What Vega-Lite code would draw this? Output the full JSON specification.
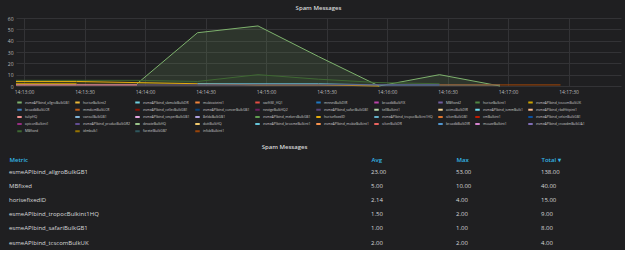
{
  "$schema": "https://vega.github.io/schema/vega-lite/v6.json",
  "background": "#1f1f21",
  "padding": {"left": 7, "top": 5, "right": 4, "bottom": 0},
  "spacing": 10,
  "columns": 1,
  "align": "none",
  "resolve": {"scale": {"color": "independent"}, "legend": {"color": "independent"}},
  "config": {
    "font": "Open Sans",
    "view": {"stroke": null},
    "title": {"fontSize": 6, "fontWeight": 600, "color": "#d8d9da", "offset": 5}
  },
  "datasets": {
    "series": [
      {"t": "2017-03-01T14:13:56", "s": "esmeAPIbind_allgroBulkGB1", "v": 2},
      {"t": "2017-03-01T14:14:26", "s": "esmeAPIbind_allgroBulkGB1", "v": 47},
      {"t": "2017-03-01T14:14:56", "s": "esmeAPIbind_allgroBulkGB1", "v": 53},
      {"t": "2017-03-01T14:15:26", "s": "esmeAPIbind_allgroBulkGB1", "v": 26},
      {"t": "2017-03-01T14:15:56", "s": "esmeAPIbind_allgroBulkGB1", "v": 0},
      {"t": "2017-03-01T14:16:26", "s": "esmeAPIbind_allgroBulkGB1", "v": 10},
      {"t": "2017-03-01T14:16:56", "s": "esmeAPIbind_allgroBulkGB1", "v": 0},
      {"t": "2017-03-01T14:12:56", "s": "MBfixed", "v": 5},
      {"t": "2017-03-01T14:13:26", "s": "MBfixed", "v": 5},
      {"t": "2017-03-01T14:13:56", "s": "MBfixed", "v": 5},
      {"t": "2017-03-01T14:14:26", "s": "MBfixed", "v": 4},
      {"t": "2017-03-01T14:14:56", "s": "MBfixed", "v": 10},
      {"t": "2017-03-01T14:15:26", "s": "MBfixed", "v": 6},
      {"t": "2017-03-01T14:15:56", "s": "MBfixed", "v": 3},
      {"t": "2017-03-01T14:16:26", "s": "MBfixed", "v": 2},
      {"t": "2017-03-01T14:12:56", "s": "horisefixedID", "v": 4},
      {"t": "2017-03-01T14:13:26", "s": "horisefixedID", "v": 4},
      {"t": "2017-03-01T14:13:56", "s": "horisefixedID", "v": 3},
      {"t": "2017-03-01T14:14:26", "s": "horisefixedID", "v": 2},
      {"t": "2017-03-01T14:14:56", "s": "horisefixedID", "v": 1},
      {"t": "2017-03-01T14:15:26", "s": "horisefixedID", "v": 1},
      {"t": "2017-03-01T14:15:56", "s": "horisefixedID", "v": 0},
      {"t": "2017-03-01T14:14:26", "s": "esmeAPIbind_tropocBulkint1HQ", "v": 2},
      {"t": "2017-03-01T14:14:56", "s": "esmeAPIbind_tropocBulkint1HQ", "v": 2},
      {"t": "2017-03-01T14:15:26", "s": "esmeAPIbind_tropocBulkint1HQ", "v": 2},
      {"t": "2017-03-01T14:15:56", "s": "esmeAPIbind_tropocBulkint1HQ", "v": 1},
      {"t": "2017-03-01T14:16:26", "s": "esmeAPIbind_tropocBulkint1HQ", "v": 1},
      {"t": "2017-03-01T14:16:56", "s": "esmeAPIbind_tropocBulkint1HQ", "v": 1},
      {"t": "2017-03-01T14:12:56", "s": "esmeAPIbind_safariBulkGB1", "v": 1},
      {"t": "2017-03-01T14:13:26", "s": "esmeAPIbind_safariBulkGB1", "v": 1},
      {"t": "2017-03-01T14:13:56", "s": "esmeAPIbind_safariBulkGB1", "v": 1},
      {"t": "2017-03-01T14:14:26", "s": "esmeAPIbind_safariBulkGB1", "v": 1},
      {"t": "2017-03-01T14:14:56", "s": "esmeAPIbind_safariBulkGB1", "v": 1},
      {"t": "2017-03-01T14:15:26", "s": "esmeAPIbind_safariBulkGB1", "v": 1},
      {"t": "2017-03-01T14:15:56", "s": "esmeAPIbind_safariBulkGB1", "v": 1},
      {"t": "2017-03-01T14:16:26", "s": "esmeAPIbind_safariBulkGB1", "v": 1},
      {"t": "2017-03-01T14:12:56", "s": "esmeAPIbind_tcscomBulkUK", "v": 2},
      {"t": "2017-03-01T14:13:26", "s": "esmeAPIbind_tcscomBulkUK", "v": 2},
      {"t": "2017-03-01T14:16:26", "s": "infobBulkint1", "v": 1},
      {"t": "2017-03-01T14:16:56", "s": "infobBulkint1", "v": 1},
      {"t": "2017-03-01T14:17:26", "s": "infobBulkint1", "v": 1},
      {"t": "2017-03-01T14:12:56", "s": "tulipHQ", "v": 1},
      {"t": "2017-03-01T14:13:26", "s": "tulipHQ", "v": 1},
      {"t": "2017-03-01T14:13:56", "s": "tulipHQ", "v": 1}
    ],
    "tabledata": [
      {"Metric": "esmeAPIbind_allgroBulkGB1", "Avg": 23, "Max": 53, "Total": 138},
      {"Metric": "MBfixed", "Avg": 5, "Max": 10, "Total": 40},
      {"Metric": "horisefixedID", "Avg": 2.14, "Max": 4, "Total": 15},
      {"Metric": "esmeAPIbind_tropocBulkint1HQ", "Avg": 1.5, "Max": 2, "Total": 9},
      {"Metric": "esmeAPIbind_safariBulkGB1", "Avg": 1, "Max": 1, "Total": 8},
      {"Metric": "esmeAPIbind_tcscomBulkUK", "Avg": 2, "Max": 2, "Total": 4}
    ]
  },
  "concat": [
    {
      "title": {"text": "Spam Messages"},
      "data": {"name": "series"},
      "width": 605,
      "height": 68,
      "encoding": {
        "x": {
          "field": "t", "type": "temporal",
          "scale": {"domain": [
            {"year": 2017, "month": 3, "date": 1, "hours": 14, "minutes": 12, "seconds": 56},
            {"year": 2017, "month": 3, "date": 1, "hours": 14, "minutes": 17, "seconds": 56}
          ]},
          "axis": {
            "values": [
              {"year": 2017, "month": 3, "date": 1, "hours": 14, "minutes": 13, "seconds": 0},
              {"year": 2017, "month": 3, "date": 1, "hours": 14, "minutes": 13, "seconds": 30},
              {"year": 2017, "month": 3, "date": 1, "hours": 14, "minutes": 14, "seconds": 0},
              {"year": 2017, "month": 3, "date": 1, "hours": 14, "minutes": 14, "seconds": 30},
              {"year": 2017, "month": 3, "date": 1, "hours": 14, "minutes": 15, "seconds": 0},
              {"year": 2017, "month": 3, "date": 1, "hours": 14, "minutes": 15, "seconds": 30},
              {"year": 2017, "month": 3, "date": 1, "hours": 14, "minutes": 16, "seconds": 0},
              {"year": 2017, "month": 3, "date": 1, "hours": 14, "minutes": 16, "seconds": 30},
              {"year": 2017, "month": 3, "date": 1, "hours": 14, "minutes": 17, "seconds": 0},
              {"year": 2017, "month": 3, "date": 1, "hours": 14, "minutes": 17, "seconds": 30}
            ],
            "format": "%H:%M:%S", "labelFontSize": 5, "labelColor": "#b9b9bb", "grid": true, "gridColor": "#333336", "domain": false, "ticks": false, "labelPadding": 3, "title": null, "labelFlush": false}
        },
        "y": {
          "field": "v", "type": "quantitative", "stack": null,
          "scale": {"domain": [0, 60], "nice": false},
          "axis": {"values": [0, 10, 20, 30, 40, 50, 60], "labelFontSize": 5, "labelColor": "#b9b9bb", "grid": true, "gridColor": "#333336", "domain": false, "ticks": false, "labelPadding": 3, "title": null, "minExtent": 7, "maxExtent": 7}
        },
        "color": {
          "field": "s", "type": "nominal",
          "scale": {
            "domain": ["esmeAPIbind_allgroBulkGB1", "horiseBulkint2", "esmeAPIbind_sbmobiBulkDR", "mobivateint1", "swiftSE_HQ1", "mnnesBulkDIR", "broadbBulkFIX", "MBfixed2", "horiseBulkint1", "esmeAPIbind_tcscomBulkUK", "broadbBulkLCR", "mmdomBulkLCR", "esmeAPIbind_cellecBulkGB1", "esmeAPIbind_converBulkGB1", "nextgeBulkHQ2", "esmeAPIbind_safariBulkGB1", "tellBulkint1", "acimoBulkDIR", "esmeAPIbind_ismmBulk1", "esmeAPIbind_rbdHttpint1", "tulipHQ", "vansolBulkGB1", "esmeAPIbind_vesperBulkGB1", "8eldaBulkGB1", "esmeAPIbind_mekersBulkGB1", "horisefixedID", "esmeAPIbind_tropocBulkint1HQ", "silverBulkGB1", "cmBulkint1", "esmeAPIbind_velsinBulkGB1", "apiconBulkint1", "esmeAPIbind_producBulkGR2", "dexateBulkHQ", "dottBulkHQ", "esmeAPIbind_brosmeBulkint1", "esmeAPIbind_mobizBulkint1", "silverBulkDR", "broadbBulkDIR", "mouzeBulkint1", "esmeAPIbind_crowdmBulkUA1", "MBfixed", "idmbulk1", "faretelBulkGB7", "infobBulkint1"],
            "range": ["#7EB26D", "#EAB839", "#6ED0E0", "#EF843C", "#E24D42", "#1F78C1", "#BA43A9", "#705DA0", "#508642", "#CCA300", "#447EBC", "#C15C17", "#890F02", "#0A437C", "#6D1F62", "#584477", "#B7DBAB", "#F4D598", "#70DBED", "#F9BA8F", "#F29191", "#82B5D8", "#E5A8E2", "#AEA2E0", "#629E51", "#E5AC0E", "#64B0C8", "#E0752D", "#BF1B00", "#0A50A1", "#962D82", "#614D93", "#9AC48A", "#F2C96D", "#65C5DB", "#F9934E", "#EA6460", "#5195CE", "#D683CE", "#806EB7", "#3F6833", "#967302", "#2F575E", "#99440A"]
          },
          "legend": {"title": null, "orient": "bottom", "direction": "horizontal", "columns": 10, "symbolLimit": 0, "symbolType": "stroke", "symbolSize": 20, "symbolStrokeWidth": 2, "clipHeight": 5, "labelFontSize": 3.4, "labelColor": "#c8c9ca", "labelOffset": 2, "columnPadding": 4, "rowPadding": 2.2, "offset": 6, "padding": 0}
        }
      },
      "layer": [
        {"mark": {"type": "area", "fillOpacity": 0.15}},
        {"mark": {"type": "line", "strokeWidth": 1}}
      ]
    },
    {
      "title": {"text": "Spam Messages", "anchor": "middle", "offset": 6},
      "spacing": 0,
      "hconcat": [
        {
          "data": {"name": "tabledata"},
          "width": 355,
          "height": 84.6,
          "transform": [{"fold": ["Metric"], "as": ["col", "val"]}],
          "mark": {"type": "text", "align": "left", "baseline": "middle", "fontSize": 6, "color": "#d8d9da", "dx": -7},
          "encoding": {
            "x": {"field": "col", "type": "nominal", "scale": {"type": "point", "padding": 0, "align": 0},
              "axis": {"orient": "top", "title": null, "domain": false, "ticks": false, "labelPadding": 3, "labelOffset": -7, "labelAngle": 0, "labelAlign": "left", "labelColor": "#33b5e5", "labelFontSize": 6, "labelFontWeight": 600}},
            "y": {"field": "Metric", "type": "nominal", "sort": ["esmeAPIbind_allgroBulkGB1", "MBfixed", "horisefixedID", "esmeAPIbind_tropocBulkint1HQ", "esmeAPIbind_safariBulkGB1", "esmeAPIbind_tcscomBulkUK"], "scale": {"paddingInner": 0, "paddingOuter": 0}, "axis": null},
            "text": {"field": "val", "type": "nominal"}
          }
        },
        {
          "data": {"name": "tabledata"},
          "width": 170,
          "height": 84.6,
          "transform": [{"fold": ["Avg", "Max", "Total"], "as": ["col", "num"]}],
          "mark": {"type": "text", "align": "left", "baseline": "middle", "fontSize": 6, "color": "#d8d9da"},
          "encoding": {
            "x": {"field": "col", "type": "nominal", "scale": {"type": "point", "domain": ["Avg", "Max", "Total"], "padding": 0, "align": 0},
              "axis": {"orient": "top", "title": null, "domain": false, "ticks": false, "labelPadding": 3, "labelAngle": 0, "labelAlign": "left", "labelColor": "#33b5e5", "labelFontSize": 6, "labelFontWeight": 600, "labelExpr": "datum.label == 'Total' ? 'Total ▾' : datum.label"}},
            "y": {"field": "Metric", "type": "nominal", "sort": ["esmeAPIbind_allgroBulkGB1", "MBfixed", "horisefixedID", "esmeAPIbind_tropocBulkint1HQ", "esmeAPIbind_safariBulkGB1", "esmeAPIbind_tcscomBulkUK"], "scale": {"paddingInner": 0, "paddingOuter": 0}, "axis": null},
            "text": {"field": "num", "type": "quantitative", "format": ".2f"}
          }
        }
      ]
    }
  ]
}
